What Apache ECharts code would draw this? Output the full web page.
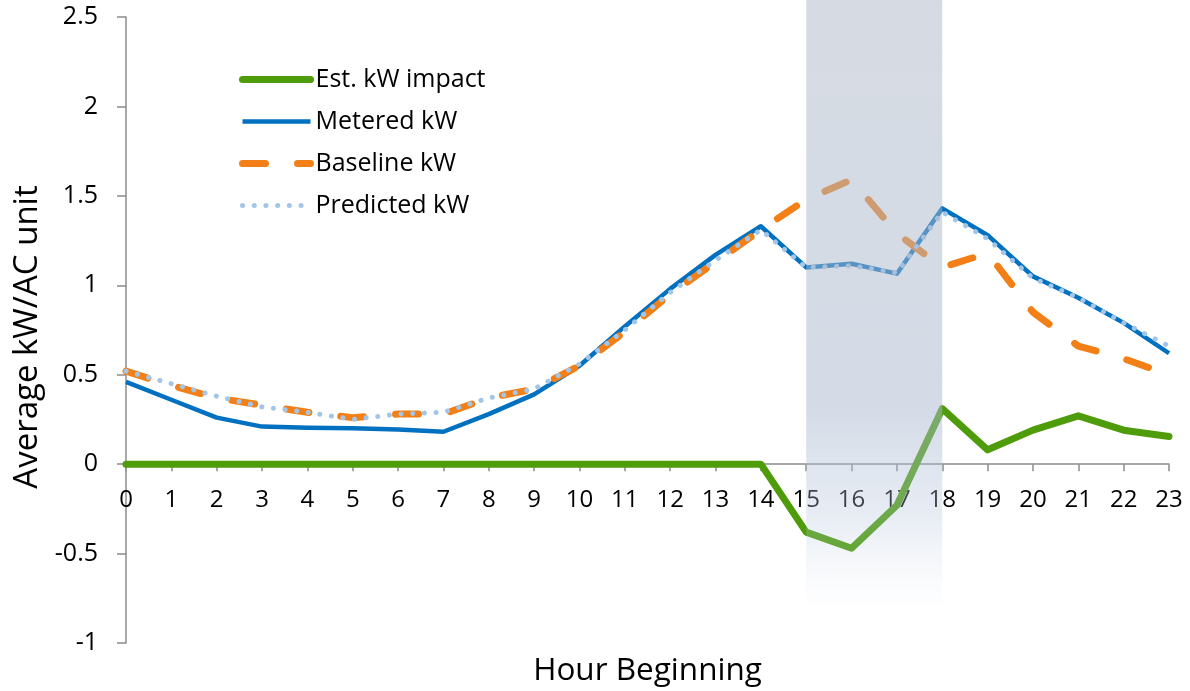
<!DOCTYPE html>
<html><head><meta charset="utf-8">
<script src="https://cdn.jsdelivr.net/npm/echarts@6/dist/echarts.min.js"></script>
<style>html,body{margin:0;padding:0;background:#fff}#c{width:1190px;height:691px}</style>
</head><body><div id="c"></div>
<script>
const hours = ['0','1','2','3','4','5','6','7','8','9','10','11','12','13','14','15','16','17','18','19','20','21','22','23'];
const estImpact = [0,0,0,0,0,0,0,0,0,0,0,0,0,0,0,-0.38,-0.47,-0.23,0.31,0.08,0.19,0.27,0.19,0.155];
const metered   = [0.46,0.36,0.26,0.21,0.203,0.20,0.194,0.181,0.28,0.39,0.55,0.77,0.98,1.17,1.33,1.10,1.12,1.065,1.43,1.28,1.05,0.93,0.79,0.62];
const baseline  = [0.52,0.44,0.37,0.33,0.29,0.26,0.28,0.28,0.37,0.42,0.55,0.74,0.95,1.13,1.31,1.48,1.59,1.29,1.10,1.18,0.85,0.66,0.59,0.50];
const predicted = [0.52,0.45,0.38,0.32,0.29,0.25,0.28,0.29,0.37,0.42,0.56,0.75,0.96,1.14,1.31,1.10,1.11,1.07,1.41,1.26,1.04,0.93,0.79,0.66];
const seriesNames = ['Est. kW impact','Metered kW','Baseline kW','Predicted kW'];
const yMin = -1, yMax = 2.5, yStep = 0.5;
const shadeFromIdx = 15, shadeToIdx = 18, shadeBottomValue = -0.78;

const FONT = '"Open Sans"';
const COLORS = ['#4e9c0a', '#0070c0', '#f28016', '#a3c6e8'];
const WIDTHS = [7, 4.5, 7, 5];
const chart = echarts.init(document.getElementById('c'), null, {renderer:'canvas'});
const option = {
  animation: false,
  textStyle: {fontFamily: FONT},
  grid: {left: 126, right: 21, top: 17, bottom: 48, containLabel: false},
  legend: {
    orient: 'vertical', left: 239, top: 67, padding: 0, itemWidth: 68, itemHeight: 14, itemGap: 17,
    itemStyle: {opacity: 0},
    textStyle: {fontFamily: FONT, fontSize: 25, color: '#000', padding: [0, 0, 0, 0]},
    data: seriesNames.map((n, i) => ({name: n, lineStyle: {width: WIDTHS[i]}}))
  },
  xAxis: [{
    type: 'category', data: hours, boundaryGap: false,
    axisLine: {onZero: true, lineStyle: {color: '#8c8c8c', width: 1.5}},
    axisTick: {show: true, length: 7, interval: 0, lineStyle: {color: '#8c8c8c', width: 1.5}},
    axisLabel: {show: false},
    splitLine: {show: false}
  }, {
    type: 'category', data: hours, boundaryGap: false, position: 'bottom', offset: 0,
    axisLine: {show: false, onZero: false},
    axisTick: {show: false},
    axisLabel: {interval: 0, fontFamily: FONT, fontSize: 24, color: '#000', margin: 24},
    splitLine: {show: false}
  }],
  yAxis: {
    type: 'value', min: yMin, max: yMax, interval: yStep,
    name: 'Average kW/AC unit', nameLocation: 'middle', nameGap: 80,
    nameTextStyle: {fontFamily: FONT, fontSize: 33, color: '#000', padding: [0, 14, 0, 0]},
    axisLine: {show: true, lineStyle: {color: '#8c8c8c', width: 1.5}},
    axisTick: {show: true, length: 9, lineStyle: {color: '#8c8c8c', width: 1.5}},
    axisLabel: {fontFamily: FONT, fontSize: 25, color: '#000', margin: 28},
    splitLine: {show: false}
  },
  series: [
    {name: seriesNames[0], type: 'line', data: estImpact, symbol: 'none', z: 2,
     lineStyle: {color: COLORS[0], width: WIDTHS[0], cap: 'round', join: 'round'}, itemStyle: {color: COLORS[0]}},
    {name: seriesNames[1], type: 'line', data: metered, symbol: 'none', z: 3,
     lineStyle: {color: COLORS[1], width: WIDTHS[1], join: 'round'}, itemStyle: {color: COLORS[1]}},
    {name: seriesNames[2], type: 'line', data: baseline, symbol: 'none', z: 4,
     lineStyle: {color: COLORS[2], width: WIDTHS[2], type: [23, 32], cap: 'round', join: 'round'}, itemStyle: {color: COLORS[2]}},
    {name: seriesNames[3], type: 'line', data: predicted, symbol: 'none', z: 5,
     lineStyle: {color: COLORS[3], width: WIDTHS[3], type: [0.1, 11.6], cap: 'round'}, itemStyle: {color: COLORS[3]}}
  ]
};
chart.setOption(option);

const yZero = chart.convertToPixel({yAxisIndex: 0}, 0);
const yMinPx = chart.convertToPixel({yAxisIndex: 0}, yMin);
const x0 = chart.convertToPixel({xAxisIndex: 0}, shadeFromIdx);
const x1 = chart.convertToPixel({xAxisIndex: 0}, shadeToIdx);
const yB = chart.convertToPixel({yAxisIndex: 0}, shadeBottomValue);
const xMid = (chart.convertToPixel({xAxisIndex: 0}, 0) + chart.convertToPixel({xAxisIndex: 0}, hours.length - 1)) / 2;
chart.setOption({
  xAxis: [{}, {offset: -(yMinPx - yZero)}],
  graphic: [
    {type: 'rect', z: 100, silent: true,
     shape: {x: x0, y: 0, width: x1 - x0, height: yB},
     style: {fill: new echarts.graphic.LinearGradient(0, 0, 0, 1, [
       {offset: 0, color: 'rgba(173,183,199,0.5)'},
       {offset: 0.68, color: 'rgba(170,184,206,0.5)'},
       {offset: 0.86, color: 'rgba(180,196,220,0.3)'},
       {offset: 1, color: 'rgba(210,220,236,0.03)'}
     ])}},
    {type: 'text', x: xMid, y: 671, z: 10,
     style: {text: 'Hour Beginning', fontFamily: FONT, fontSize: 31.5, fill: '#000', align: 'center', verticalAlign: 'middle'}}
  ]
});
</script></body></html>
